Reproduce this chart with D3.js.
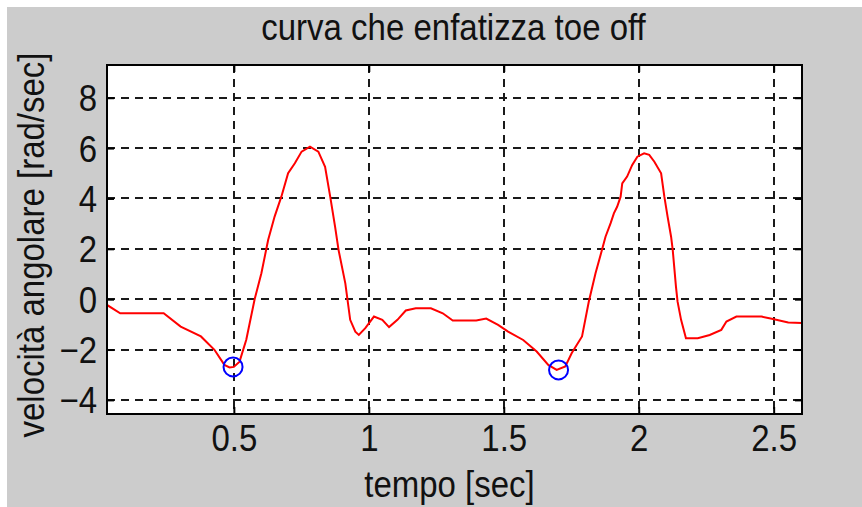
<!DOCTYPE html>
<html><head><meta charset="utf-8">
<script src="https://cdn.jsdelivr.net/npm/d3@7"></script>
<style>html,body{margin:0;padding:0;background:#fff;}svg{display:block;}</style>
</head><body>
<script>
const titleText = "curva che enfatizza toe off";
const xLabel = "tempo [sec]";
const yLabel = "velocità angolare [rad/sec]";
const xTicks = [0.5, 1, 1.5, 2, 2.5];
const yTicks = [-4, -2, 0, 2, 4, 6, 8];
const xDomain = [0.03, 2.605];
const yDomain = [-4.56, 9.3];
const tempo = [0.030,0.079,0.240,0.303,0.378,0.428,0.465,0.484,0.500,0.521,0.546,0.577,0.602,0.627,0.651,0.676,0.701,0.726,0.751,0.782,0.813,0.838,0.857,0.875,0.888,0.913,0.931,0.950,0.963,0.987,1.019,1.050,1.075,1.106,1.137,1.174,1.230,1.274,1.311,1.398,1.435,1.479,1.516,1.572,1.622,1.665,1.696,1.728,1.752,1.790,1.815,1.840,1.864,1.877,1.896,1.908,1.920,1.933,1.939,1.957,1.976,1.995,2.020,2.039,2.058,2.083,2.095,2.107,2.120,2.126,2.138,2.144,2.157,2.175,2.219,2.263,2.306,2.325,2.362,2.455,2.493,2.554,2.605];
const velocita = [-0.23,-0.56,-0.56,-1.09,-1.48,-2.01,-2.61,-2.71,-2.69,-2.48,-1.61,0.0,1.03,2.35,3.28,4.07,5.0,5.4,5.86,6.06,5.86,5.26,4.07,2.88,1.95,0.63,-0.82,-1.29,-1.42,-1.15,-0.69,-0.82,-1.11,-0.82,-0.45,-0.36,-0.36,-0.56,-0.85,-0.85,-0.77,-1.02,-1.29,-1.62,-2.08,-2.61,-2.81,-2.67,-2.14,-1.48,-0.10,1.03,1.96,2.48,3.02,3.41,3.67,4.07,4.6,4.87,5.33,5.66,5.79,5.73,5.46,5.0,4.07,3.28,2.48,1.96,0.5,-0.1,-0.82,-1.55,-1.55,-1.42,-1.22,-0.89,-0.69,-0.69,-0.78,-0.93,-0.95];
const toeOffT = [0.497, 1.703];
const toeOffV = [-2.69, -2.81];

const W = 862, H = 507;
const L = 107, R = 802, T = 65, B = 414;
const font = "'Liberation Sans', Arial, Helvetica, sans-serif";
const fs = "33px";
const sy = 1.1;

const svg = d3.select("body").append("svg").attr("width", W).attr("height", H);
svg.append("rect").attr("x", 7).attr("y", 7).attr("width", W - 7).attr("height", H - 7).attr("fill", "#cccccc");

const x = d3.scaleLinear().domain(xDomain).range([L, R]);
const y = d3.scaleLinear().domain(yDomain).range([B, T]);

svg.append("rect").attr("x", L).attr("y", T).attr("width", R - L).attr("height", B - T).attr("fill", "#fff");

// grid
const grid = svg.append("g").attr("stroke", "#1a1a1a").attr("stroke-width", 2).attr("stroke-dasharray", "8,6");
grid.selectAll("line.v").data(xTicks).join("line").attr("class", "v")
  .attr("x1", d => Math.round(x(d))).attr("x2", d => Math.round(x(d))).attr("y1", T).attr("y2", B);
grid.selectAll("line.h").data(yTicks).join("line").attr("class", "h")
  .attr("y1", d => Math.round(y(d))).attr("y2", d => Math.round(y(d))).attr("x1", L).attr("x2", R);

// data line
svg.append("clipPath").attr("id", "clip").append("rect").attr("x", L).attr("y", T).attr("width", R - L).attr("height", B - T);
const pts = tempo.map((t, i) => [t, velocita[i]]);
svg.append("path").datum(pts).attr("clip-path", "url(#clip)")
  .attr("d", d3.line().x(d => x(d[0])).y(d => y(d[1])))
  .attr("fill", "none").attr("stroke", "#ff0000").attr("stroke-width", 2);

// markers
svg.selectAll("circle.m").data(toeOffT).join("circle").attr("class", "m")
  .attr("cx", d => x(d)).attr("cy", (d, i) => y(toeOffV[i])).attr("r", 9.5)
  .attr("fill", "none").attr("stroke", "#0000ff").attr("stroke-width", 2);

// axes with inner ticks
const tl = 7;
const axB = svg.append("g").attr("transform", `translate(0,${B})`).call(d3.axisBottom(x).tickValues(xTicks).tickSizeInner(-tl).tickSizeOuter(0).tickFormat(d3.format("")));
const axT = svg.append("g").attr("transform", `translate(0,${T})`).call(d3.axisTop(x).tickValues(xTicks).tickSizeInner(-tl).tickSizeOuter(0).tickFormat(""));
const axL = svg.append("g").attr("transform", `translate(${L},0)`).call(d3.axisLeft(y).tickValues(yTicks).tickSizeInner(-tl).tickSizeOuter(0).tickFormat(d3.format("")));
const axR = svg.append("g").attr("transform", `translate(${R},0)`).call(d3.axisRight(y).tickValues(yTicks).tickSizeInner(-tl).tickSizeOuter(0).tickFormat(""));
[axB, axT, axL, axR].forEach(a => {
  a.select(".domain").remove();
  a.selectAll(".tick line").attr("stroke", "#000").attr("stroke-width", 2);
  a.selectAll("text").attr("fill", "#111").style("font-family", font).style("font-size", fs);
});
axB.selectAll("text").attr("dy", null).attr("y", 37)
  .attr("transform", `translate(0,37) scale(1,${sy}) translate(0,-37)`);
axL.selectAll("text").attr("x", -10).attr("dy", "0.36em")
  .attr("transform", `scale(1,${sy})`);

svg.append("rect").attr("x", L).attr("y", T).attr("width", R - L).attr("height", B - T)
  .attr("fill", "none").attr("stroke", "#000").attr("stroke-width", 2);

function stretched(px, py, extra) {
  return `translate(${px},${py}) ${extra || ""} scale(1,${sy})`;
}
svg.append("text").attr("transform", stretched((L + R) / 2 - 1, 40)).attr("text-anchor", "middle")
  .style("font-family", font).style("font-size", fs).attr("fill", "#111").text(titleText);
svg.append("text").attr("transform", stretched((L + R) / 2 - 5, 497)).attr("text-anchor", "middle")
  .style("font-family", font).style("font-size", fs).attr("fill", "#111").text(xLabel);
svg.append("text").attr("transform", stretched(44, 245, "rotate(-90)")).attr("text-anchor", "middle")
  .style("font-family", font).style("font-size", fs).attr("fill", "#111").text(yLabel);
</script>
</body></html>
